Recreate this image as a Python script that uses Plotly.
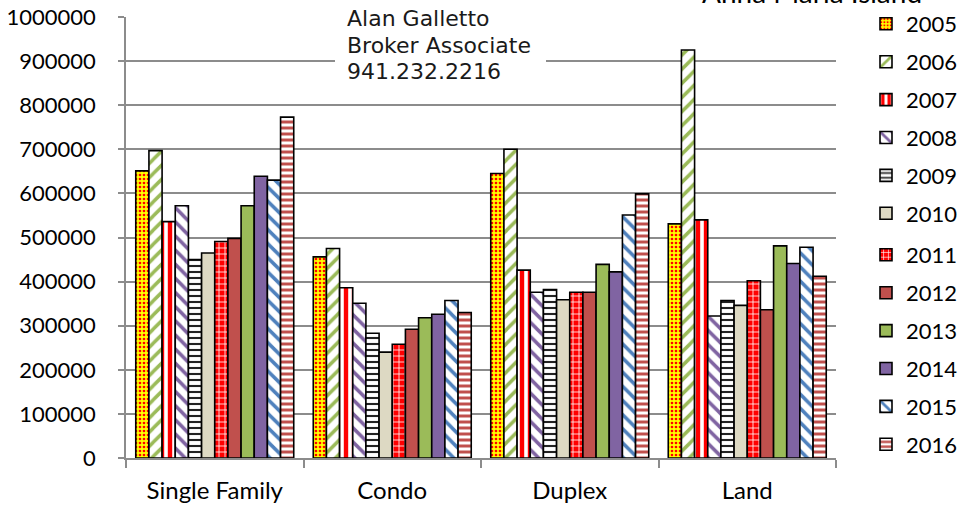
import plotly.graph_objects as go

# Median sale prices by property type, 2005-2016
categories = ["Single Family", "Condo", "Duplex", "Land"]
years = ["2005", "2006", "2007", "2008", "2009", "2010",
         "2011", "2012", "2013", "2014", "2015", "2016"]

v2005 = [651000, 456000, 645000, 531000]
v2006 = [697000, 475000, 700000, 925000]
v2007 = [536000, 386000, 426000, 540000]
v2008 = [572000, 351000, 376000, 322000]
v2009 = [450000, 283000, 382000, 357000]
v2010 = [465000, 240000, 359000, 346000]
v2011 = [491000, 258000, 376000, 402000]
v2012 = [498000, 292000, 376000, 336000]
v2013 = [572000, 318000, 439000, 481000]
v2014 = [639000, 326000, 422000, 441000]
v2015 = [630000, 357000, 551000, 478000]
v2016 = [773000, 330000, 599000, 412000]
values = [v2005, v2006, v2007, v2008, v2009, v2010,
          v2011, v2012, v2013, v2014, v2015, v2016]

y_ticks = [0, 100000, 200000, 300000, 400000, 500000,
           600000, 700000, 800000, 900000, 1000000]

# fill style per year: (pattern shape, foreground, background, tile size, solidity)
styles = [
    (".", "#FF0000", "#FFFF00", 4, 0.35),
    ("/", "#9BBB59", "#FFFFFF", 10, 0.35),
    ("|", "#FF0000", "#FFFFFF", 8, 0.55),
    ("\\", "#8064A2", "#FFFFFF", 10, 0.35),
    ("-", "#222222", "#FFFFFF", 6, 0.35),
    ("", "#DDD9C3", "#DDD9C3", 8, 0.3),
    ("+", "#FFFFFF", "#FF0000", 6, 0.25),
    ("", "#C0504D", "#C0504D", 8, 0.3),
    ("", "#9BBB59", "#9BBB59", 8, 0.3),
    ("", "#8064A2", "#8064A2", 8, 0.3),
    ("\\", "#4F81BD", "#FFFFFF", 10, 0.35),
    ("-", "#C0504D", "#FFFFFF", 6, 0.5),
]

fig = go.Figure()
for i, (yr, vals) in enumerate(zip(years, values)):
    shape, fg, bg, size, sol = styles[i]
    fig.add_trace(go.Bar(
        x=categories, y=vals, name=yr, legendgroup=yr,
        # the year list is split over two stacked legend boxes
        legend="legend" if i < 6 else "legend2",
        marker=dict(
            color=bg,
            line=dict(color="#000000", width=1.6),
            pattern=dict(shape=shape, fgcolor=fg, bgcolor=bg,
                         size=size, solidity=sol, fillmode="replace"),
        ),
    ))

# plot area geometry in page pixels
L, R, T, B = 126, 836, 17, 458
W, H = 960, 508


def px(x):
    return (x - L) / (R - L)


def py(y):
    return (B - y) / (B - T)


legend_style = dict(
    xanchor="left", yanchor="top",
    font=dict(family="Lato", size=22, color="#000000"),
    traceorder="grouped", tracegroupgap=6.3,
    bgcolor="rgba(0,0,0,0)",
)

fig.update_layout(
    width=W, height=H,
    margin=dict(l=L, r=W - R, t=T, b=H - B, autoexpand=False),
    paper_bgcolor="white", plot_bgcolor="white",
    barmode="group", bargap=0.11, bargroupgap=0,
    font=dict(family="Lato", size=22, color="#000000"),
    showlegend=True,
    legend=dict(x=px(866), y=py(3), **legend_style),
    legend2=dict(x=px(866), y=py(234), **legend_style),
)

fig.update_yaxes(
    range=[0, 1000000], tickvals=y_ticks, tickformat="d",
    showgrid=True, gridcolor="#8C8C8C", gridwidth=1.5,
    showline=True, linecolor="#8C8C8C", linewidth=1.5,
    ticks="outside", ticklen=6, tickcolor="#8C8C8C", tickwidth=1.5,
    ticklabelstandoff=18, zeroline=False,
    tickfont=dict(family="Lato", size=22, color="#000000"),
)
fig.update_xaxes(
    showline=True, linecolor="#8C8C8C", linewidth=1.5,
    ticks="outside", tickson="boundaries", ticklen=8,
    tickcolor="#8C8C8C", tickwidth=1.5,
    ticklabelstandoff=10,
    tickfont=dict(family="Lato", size=24, color="#000000"),
)

# white label box with contact details
fig.add_shape(type="rect", xref="paper", yref="paper",
              x0=px(335), x1=px(546), y0=py(88), y1=py(3),
              fillcolor="white", line=dict(width=0), layer="above")
for text, yc in [("Alan Galletto", 18), ("Broker Associate", 45),
                 ("941.232.2216", 72)]:
    fig.add_annotation(text=text, xref="paper", yref="paper",
                       x=px(345), y=py(yc), xanchor="left", yanchor="middle",
                       showarrow=False,
                       font=dict(family="DejaVu Sans", size=22, color="#1A1A1A"))

fig.add_annotation(text="Anna Maria Island", xref="paper", yref="paper",
                   x=px(812), y=py(-8), xanchor="center", yanchor="middle",
                   showarrow=False,
                   font=dict(family="Lato", size=28, color="#000000"))

fig.write_html("out.html")
